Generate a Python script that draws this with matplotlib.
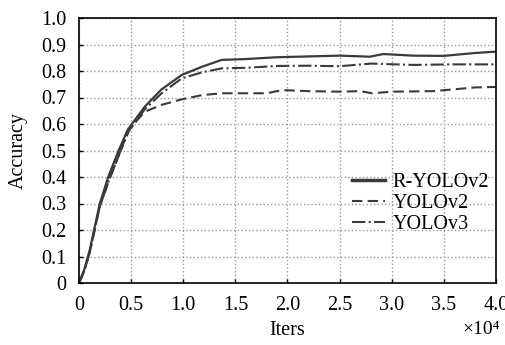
import matplotlib
matplotlib.use("Agg")
import matplotlib.pyplot as plt

plt.rcParams['font.family'] = ['Liberation Serif', 'DejaVu Serif']
plt.rcParams['font.size'] = 14.5

# iterations in units of 1e4
r_x = [0, 0.05, 0.1, 0.2, 0.28, 0.38, 0.47, 0.63, 0.79, 0.985, 1.18, 1.37, 1.6, 1.9, 2.2, 2.5, 2.79, 2.92, 3.2, 3.5, 3.8, 4.0]
r_y = [0, 0.05, 0.12, 0.30, 0.40, 0.50, 0.58, 0.665, 0.73, 0.785, 0.816, 0.842, 0.845, 0.852, 0.855, 0.858, 0.854, 0.864, 0.858, 0.857, 0.868, 0.873]

v2_x = [0, 0.05, 0.1, 0.2, 0.29, 0.39, 0.48, 0.63, 0.79, 0.985, 1.18, 1.37, 1.8, 1.95, 2.2, 2.5, 2.7, 2.81, 3.0, 3.4, 3.8, 4.0]
v2_y = [0, 0.045, 0.11, 0.29, 0.39, 0.49, 0.58, 0.646, 0.672, 0.693, 0.709, 0.716, 0.716, 0.728, 0.724, 0.722, 0.724, 0.716, 0.722, 0.724, 0.738, 0.74]

v3_x = [0, 0.05, 0.1, 0.2, 0.29, 0.39, 0.48, 0.63, 0.79, 0.985, 1.18, 1.37, 1.6, 1.9, 2.2, 2.5, 2.8, 3.2, 3.6, 4.0]
v3_y = [0, 0.045, 0.11, 0.29, 0.39, 0.49, 0.575, 0.655, 0.715, 0.772, 0.795, 0.81, 0.812, 0.819, 0.82, 0.818, 0.828, 0.823, 0.825, 0.825]

xticks = [0, 0.5, 1.0, 1.5, 2.0, 2.5, 3.0, 3.5, 4.0]
xlabels = ['0', '0.5', '1.0', '1.5', '2.0', '2.5', '3.0', '3.5', '4.0']
yticks = [0, 0.1, 0.2, 0.3, 0.4, 0.5, 0.6, 0.7, 0.8, 0.9, 1.0]
ylabels = ['0', '0.1', '0.2', '0.3', '0.4', '0.5', '0.6', '0.7', '0.8', '0.9', '1.0']

fig = plt.figure(figsize=(5.06, 3.45), dpi=100)
ax = fig.add_axes([79 / 506, 1 - 283 / 345, (496 - 79) / 506, (283 - 18) / 345])

c = '#3a3a3a'
ax.plot(r_x, r_y, color=c, lw=1.6, ls='-', label='R-YOLOv2')
ax.plot(v2_x, v2_y, color=c, lw=1.5, ls='--', dashes=(5, 2.5), label='YOLOv2')
ax.plot(v3_x, v3_y, color=c, lw=1.5, ls='-.', label='YOLOv3')

ax.set_xlim(0, 4.0)
ax.set_ylim(0, 1.0)
ax.set_xticks(xticks)
ax.set_xticklabels(xlabels)
ax.set_yticks(yticks)
ax.set_yticklabels(ylabels)
ax.tick_params(direction='in', length=3, width=1, pad=9)
ax.grid(True, color='#999999', ls=':', lw=1)
for s in ax.spines.values():
    s.set_linewidth(1.2)

ax.set_xlabel('Iters', labelpad=5)
ax.set_ylabel('Accuracy', labelpad=10)
ax.text(1.01, -0.145, '×10⁴', transform=ax.transAxes, ha='right', va='top', fontsize=14)

leg = ax.legend(loc='center right', bbox_to_anchor=(1.027, 0.30), frameon=False,
                handlelength=1.6, handletextpad=0.4, labelspacing=0.1)
leg.get_lines()[0].set_linewidth(2.5)

fig.savefig('out.png', dpi=100)
